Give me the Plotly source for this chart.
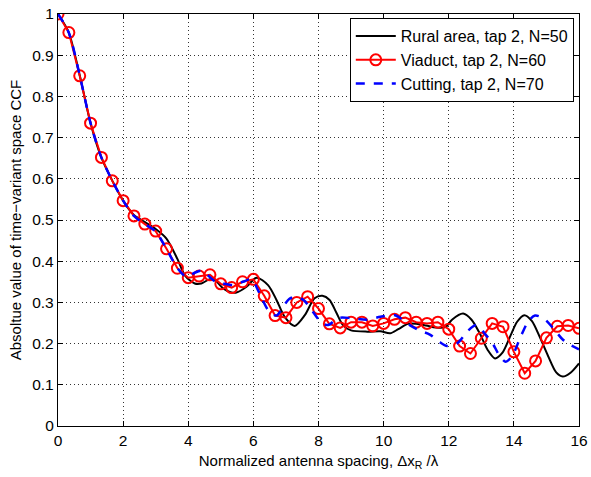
import plotly.graph_objects as go

# Viaduct (markers at every 1/3 unit)
via_x = [i / 3 for i in range(49)]
via_y = [1.0, 0.955, 0.85, 0.735, 0.652, 0.595, 0.547, 0.510, 0.490, 0.473,
         0.430, 0.383, 0.360, 0.364, 0.367, 0.345, 0.336, 0.350, 0.356, 0.316,
         0.268, 0.263, 0.300, 0.314, 0.285, 0.248, 0.238, 0.252, 0.252, 0.243,
         0.249, 0.259, 0.263, 0.252, 0.249, 0.252, 0.235, 0.194, 0.176, 0.213,
         0.249, 0.241, 0.180, 0.128, 0.158, 0.214, 0.242, 0.244, 0.237]

# Rural area
rur_x = [0, 0.33, 0.67, 1.0, 1.33, 1.67, 2.0, 2.33, 2.67, 3.0, 3.33, 3.67, 3.9,
         4.2, 4.4, 4.66, 4.85, 5.07, 5.3, 5.48, 5.79, 6.1, 6.45, 6.71, 6.96,
         7.27, 7.58, 7.88, 8.12, 8.34, 8.55, 8.75, 9.0, 9.5, 9.9, 10.2, 10.45,
         10.75, 11.0, 11.3, 11.6, 11.9, 12.1, 12.44, 12.7, 12.95, 13.2, 13.42,
         13.65, 13.9, 14.1, 14.32, 14.55, 14.8, 15.05, 15.3, 15.5, 15.75, 16.0]
rur_y = [1.0, 0.955, 0.85, 0.735, 0.652, 0.595, 0.547, 0.512, 0.495, 0.478,
         0.455, 0.405, 0.365, 0.346, 0.346, 0.356, 0.352, 0.334, 0.325, 0.324,
         0.338, 0.360, 0.342, 0.306, 0.265, 0.243, 0.269, 0.310, 0.316, 0.306,
         0.275, 0.245, 0.232, 0.229, 0.230, 0.225, 0.235, 0.248, 0.248, 0.244,
         0.239, 0.240, 0.258, 0.273, 0.258, 0.225, 0.184, 0.164, 0.178, 0.220,
         0.253, 0.269, 0.255, 0.215, 0.170, 0.130, 0.120, 0.130, 0.152]

# Cutting
cut_x = [0, 0.33, 0.67, 1.0, 1.33, 1.67, 2.0, 2.33, 2.67, 3.0, 3.33, 3.67, 3.95,
         4.2, 4.4, 4.6, 4.8, 5.07, 5.37, 5.68, 5.94, 6.19, 6.45, 6.71, 6.91,
         7.1, 7.3, 7.55, 7.83, 8.1, 8.3, 8.6, 9.0, 9.5, 9.9, 10.35, 10.8, 11.1,
         11.42, 11.7, 11.95, 12.25, 12.6, 12.85, 13.1, 13.35, 13.55, 13.75,
         13.95, 14.2, 14.45, 14.65, 14.9, 15.2, 15.5, 15.75, 16.0]
cut_y = [1.0, 0.955, 0.85, 0.735, 0.652, 0.595, 0.547, 0.510, 0.490, 0.472,
         0.430, 0.383, 0.362, 0.372, 0.377, 0.366, 0.352, 0.346, 0.342, 0.350,
         0.356, 0.322, 0.282, 0.268, 0.290, 0.308, 0.314, 0.305, 0.277, 0.250,
         0.245, 0.262, 0.262, 0.258, 0.265, 0.269, 0.245, 0.232, 0.222, 0.205,
         0.194, 0.200, 0.232, 0.245, 0.225, 0.200, 0.172, 0.156, 0.170, 0.215,
         0.255, 0.268, 0.262, 0.238, 0.210, 0.196, 0.186]

x_ticks = [0, 2, 4, 6, 8, 10, 12, 14, 16]
y_ticks = [0, 0.1, 0.2, 0.3, 0.4, 0.5, 0.6, 0.7, 0.8, 0.9, 1]
y_tick_text = ["0", "0.1", "0.2", "0.3", "0.4", "0.5", "0.6", "0.7", "0.8", "0.9", "1"]

FONT = "Liberation Sans, Arial, Helvetica, sans-serif"

fig = go.Figure()
fig.add_trace(go.Scatter(x=rur_x, y=rur_y, mode="lines", name="Rural area, tap 2, N=50",
                         line=dict(color="black", width=2, shape="spline", smoothing=0.8)))
fig.add_trace(go.Scatter(x=via_x, y=via_y, mode="lines+markers", name="Viaduct, tap 2, N=60",
                         line=dict(color="#ff0000", width=2),
                         marker=dict(symbol="circle-open", size=11, color="#ff0000",
                                     line=dict(width=2, color="#ff0000"))))
fig.add_trace(go.Scatter(x=cut_x, y=cut_y, mode="lines", name="Cutting, tap 2, N=70",
                         line=dict(color="#0000ff", width=2.5, dash="dash", shape="spline", smoothing=0.8)))

axis_common = dict(showline=True, linecolor="black", linewidth=1.3, mirror="ticks",
                   ticks="inside", ticklen=5, tickcolor="black", tickwidth=1,
                   showgrid=True, gridcolor="#333333", gridwidth=1, griddash="1px,3px",
                   zeroline=False, automargin=False,
                   tickfont=dict(family=FONT, size=15.5, color="black"))

fig.update_xaxes(range=[0, 16], tickvals=x_ticks, **axis_common,
                 title=dict(text="Normalized antenna spacing, Δx<sub>R</sub> /λ",
                            font=dict(family=FONT, size=15, color="black"), standoff=7))
fig.update_yaxes(range=[0, 1], tickvals=y_ticks, ticktext=y_tick_text, **axis_common,
                 title=dict(text="Absoltue value of time−variant space CCF",
                            font=dict(family=FONT, size=15, color="black"), standoff=6))

fig.update_layout(
    width=591, height=477,
    margin=dict(l=58, r=12, t=14, b=51),
    plot_bgcolor="white", paper_bgcolor="white",
    font=dict(family=FONT, size=14, color="black"),
    legend=dict(x=0.99, y=0.99, xanchor="right", yanchor="top",
                bgcolor="white", bordercolor="black", borderwidth=1,
                font=dict(family=FONT, size=16, color="black"),
                tracegroupgap=0, itemwidth=40),
    showlegend=True,
)

fig.write_html("out.html", config={"displayModeBar": False},
               post_script="document.body.style.margin='0';document.body.style.padding='0';")
